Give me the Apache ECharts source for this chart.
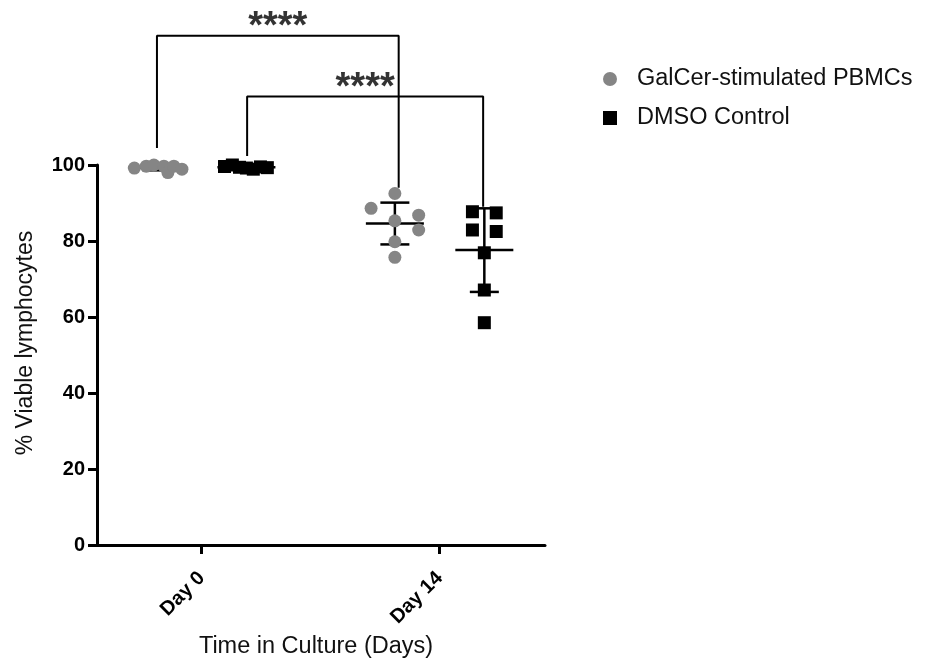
<!DOCTYPE html>
<html>
<head>
<meta charset="utf-8">
<script src="https://cdn.jsdelivr.net/npm/echarts@6/dist/echarts.min.js"></script>
<style>
  html, body { margin: 0; padding: 0; background: #fff; }
  #container { width: 925px; height: 664px; }
</style>
</head>
<body>
<div id="container"></div>
<script>
// timepoints (x = 0 for Day 0, 1 for Day 14)
var days = ['Day 0', 'Day 14'];
var groupShift = [-0.188, 0.188];   // GalCer left, DMSO right of each timepoint

// individual donors, % viable lymphocytes
var galcerDay0 = [99.2, 99.7, 100.0, 99.7, 98.0, 99.7, 98.9];
var galcerDay14 = [92.5, 88.6, 85.3, 86.8, 82.9, 79.8, 75.7];
var dmsoDay0 = [99.6, 100.0, 99.4, 99.2, 98.9, 99.5, 99.3];
var dmsoDay14 = [87.7, 87.4, 82.9, 82.5, 76.9, 67.1, 58.5];

// horizontal scatter of the dots within a group
var galcerJitter0 = [-0.095, -0.045, -0.013, 0.029, 0.046, 0.071, 0.105];
var galcerJitter14 = [0, -0.10, 0, 0.10, 0.10, 0, 0];
var dmsoJitter0 = [-0.092, -0.059, -0.029, 0, 0.029, 0.059, 0.088];
var dmsoJitter14 = [-0.05, 0.05, -0.05, 0.05, 0, 0, 0];

// mean and SD per group: [Day 0, Day 14]
var galcerMean = [99.3, 84.6];
var galcerSD = [0.7, 5.5];
var dmsoMean = [99.4, 77.6];
var dmsoSD = [0.35, 11.0];

// significance brackets: [x1, y1, x2, y2, top]
var brackets = [
    [-0.188, 104.5, 0.828, 94, 134],
    [0.191, 102.4, 1.183, 89, 118]
];
var stars = ['****', '****'];

var dom = document.getElementById('container');
var myChart = echarts.init(dom);
var FONT = 'Arial, "Liberation Sans", sans-serif';

function points(vals, jitter, day, shift) {
    return vals.map(function (v, i) {
        return [day + shift + jitter[i], v];
    });
}

var galcerPts = points(galcerDay0, galcerJitter0, 0, groupShift[0])
    .concat(points(galcerDay14, galcerJitter14, 1, groupShift[0]));
var dmsoPts = points(dmsoDay0, dmsoJitter0, 0, groupShift[1])
    .concat(points(dmsoDay14, dmsoJitter14, 1, groupShift[1]));

var statData = [];
[0, 1].forEach(function (d) {
    statData.push([d + groupShift[0], galcerMean[d], galcerSD[d]]);
    statData.push([d + groupShift[1], dmsoMean[d], dmsoSD[d]]);
});

function renderStat(params, api) {
    var x = api.value(0), m = api.value(1), sd = api.value(2);
    var c = api.coord([x, m]);
    var hi = api.coord([x, m + sd]);
    var lo = api.coord([x, m - sd]);
    var st = { stroke: '#000', lineWidth: 2.5 };
    return {
        type: 'group',
        children: [
            { type: 'line', shape: { x1: c[0] - 29, y1: c[1], x2: c[0] + 29, y2: c[1] }, style: st },
            { type: 'line', shape: { x1: c[0], y1: hi[1], x2: c[0], y2: lo[1] }, style: st },
            { type: 'line', shape: { x1: c[0] - 14.5, y1: hi[1], x2: c[0] + 14.5, y2: hi[1] }, style: st },
            { type: 'line', shape: { x1: c[0] - 14.5, y1: lo[1], x2: c[0] + 14.5, y2: lo[1] }, style: st }
        ]
    };
}

var bracketSeries = brackets.map(function (b) {
    return {
        type: 'line',
        clip: false,
        silent: true,
        symbol: 'none',
        lineStyle: { color: '#000', width: 2 },
        data: [[b[0], b[1]], [b[0], b[4]], [b[2], b[4]], [b[2], b[3]]],
        z: 1
    };
});

var starSeries = {
    type: 'scatter',
    clip: false,
    silent: true,
    symbolSize: 0,
    data: brackets.map(function (b, i) {
        return { value: [(b[0] + b[2]) / 2, b[4]], name: stars[i] };
    }),
    label: {
        show: true,
        position: 'top',
        distance: -11,
        formatter: '{b}',
        color: '#000',
        fontFamily: FONT,
        fontWeight: 'bold',
        fontSize: 38
    }
};

var option = {
    animation: false,
    backgroundColor: '#fff',
    textStyle: { fontFamily: FONT },
    grid: {
        left: 97,
        right: 380,
        top: 165,
        bottom: 119
    },
    legend: {
        data: ['GalCer-stimulated PBMCs', 'DMSO Control'],
        orient: 'vertical',
        left: 598,
        top: 62,
        itemWidth: 14,
        itemHeight: 14,
        itemGap: 15,
        textStyle: {
            color: '#111',
            fontSize: 23.5,
            fontFamily: FONT,
            padding: [0, 0, 0, 15]
        }
    },
    xAxis: {
        type: 'value',
        min: -0.44,
        max: 1.443,
        splitLine: { show: false },
        axisLine: { lineStyle: { color: '#000', width: 3 } },
        axisTick: {
            customValues: [0, 1],
            length: 9,
            lineStyle: { color: '#000', width: 3 }
        },
        axisLabel: {
            customValues: [0, 1],
            rotate: 45,
            margin: 30,
            color: '#000',
            fontWeight: 'bold',
            fontSize: 20,
            formatter: function (v) { return days[Math.round(v)]; }
        },
        name: 'Time in Culture (Days)',
        nameLocation: 'middle',
        nameGap: 90,
        nameTextStyle: { color: '#111', fontSize: 23.5, padding: [0, 10, 0, 0] }
    },
    yAxis: {
        type: 'value',
        min: 0,
        max: 100,
        interval: 20,
        splitLine: { show: false },
        axisLine: { show: true, onZero: false, lineStyle: { color: '#000', width: 3 } },
        axisTick: { show: true, length: 9, lineStyle: { color: '#000', width: 3 } },
        axisLabel: {
            margin: 12,
            color: '#000',
            fontWeight: 'bold',
            fontSize: 20
        },
        name: '% Viable lymphocytes',
        nameLocation: 'middle',
        nameGap: 60,
        nameTextStyle: { color: '#111', fontSize: 23, padding: [0, 0, 0, 24] }
    },
    series: bracketSeries.concat([
        starSeries,
        {
            type: 'custom',
            silent: true,
            renderItem: renderStat,
            data: statData,
            clip: false,
            z: 2
        },
        {
            name: 'GalCer-stimulated PBMCs',
            type: 'scatter',
            symbol: 'circle',
            symbolSize: 13,
            itemStyle: { color: '#858585', opacity: 1 },
            data: galcerPts,
            z: 3
        },
        {
            name: 'DMSO Control',
            type: 'scatter',
            symbol: 'rect',
            symbolSize: 13,
            itemStyle: { color: '#000', opacity: 1 },
            data: dmsoPts,
            z: 3
        }
    ])
};
myChart.setOption(option);
</script>
</body>
</html>
